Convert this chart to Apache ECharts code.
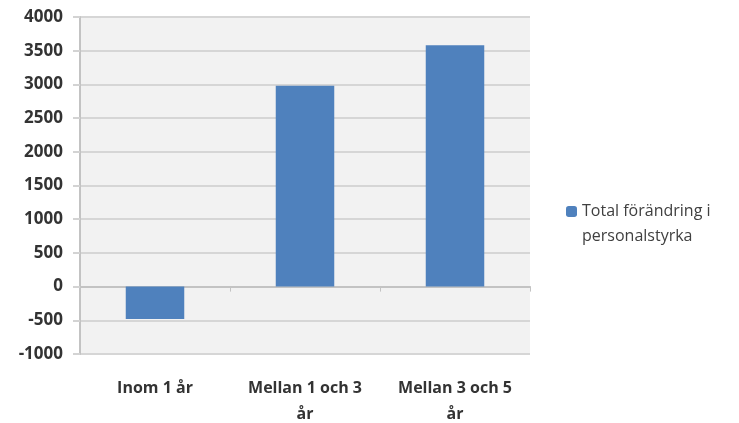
<!DOCTYPE html>
<html><head><meta charset="utf-8">
<script src="https://cdn.jsdelivr.net/npm/echarts@6/dist/echarts.min.js"></script>
<style>html,body{margin:0;padding:0;background:#fff}#c{width:739px;height:423px}</style>
</head><body><div id="c"></div>
<script>
const categories = ['Inom 1 år', 'Mellan 1 och 3\når', 'Mellan 3 och 5\når'];
const seriesName = 'Total förändring i personalstyrka';
const values = [-480, 2980, 3580];
const yMin = -1000, yMax = 4000, yStep = 500;

const font = 'Open Sans';
const chart = echarts.init(document.getElementById('c'));
chart.setOption({
  animation: false,
  grid: { left: 80, right: 209, top: 17, bottom: 69, show: true, backgroundColor: '#f2f2f2', borderWidth: 0, outerBoundsMode: 'none', containLabel: false },
  legend: {
    data: [seriesName], orient: 'vertical', left: 561, top: 169,
    itemWidth: 11, itemHeight: 11, itemGap: 0,
    formatter: () => '\nTotal förändring i\npersonalstyrka',
    textStyle: { fontFamily: font, fontSize: 16, color: '#404040', lineHeight: 25 }
  },
  xAxis: [{
    type: 'category', data: categories, position: 'bottom',
    axisLine: { show: false, onZero: false }, axisTick: { show: false },
    axisLabel: { fontFamily: font, fontWeight: 'bold', fontSize: 16, color: '#333', lineHeight: 26, margin: 21 },
    splitLine: { show: false }
  }, {
    type: 'category', data: categories, position: 'bottom',
    axisLine: { show: true, onZero: true, lineStyle: { color: '#c3c3c3', width: 2 } },
    axisTick: { show: true, inside: false, length: 5, lineStyle: { color: '#c3c3c3' } },
    axisLabel: { show: false }
  }],
  yAxis: {
    type: 'value', min: yMin, max: yMax, interval: yStep,
    axisLine: { show: true, lineStyle: { color: '#c3c3c3', width: 2 } },
    axisTick: { show: true, length: 7, lineStyle: { color: '#d3d3d3', width: 2 } },
    splitLine: { lineStyle: { color: '#d6d6d6', width: 2 } },
    axisLabel: { fontFamily: font, fontWeight: 'bold', fontSize: 17, color: '#333', margin: 17, formatter: v => String(v) }
  },
  series: [{
    name: seriesName, type: 'bar', data: values, xAxisIndex: 0,
    barWidth: '39%', itemStyle: { color: '#4f81bd' }
  }]
});
</script></body></html>
